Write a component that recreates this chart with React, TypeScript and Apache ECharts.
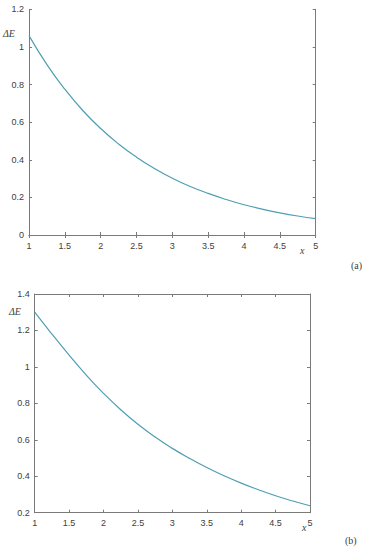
import React, { useEffect, useRef } from "react";
import * as echarts from "echarts";

const xValues = [1, 1.25, 1.5, 1.75, 2, 2.25, 2.5, 2.75, 3, 3.25, 3.5, 3.75, 4, 4.25, 4.5, 4.75, 5];
const deltaEA = [1.06, 0.906, 0.775, 0.662, 0.566, 0.484, 0.414, 0.354, 0.302, 0.258, 0.221, 0.189, 0.161, 0.138, 0.118, 0.101, 0.087];
const deltaEB = [1.3, 1.18, 1.065, 0.955, 0.855, 0.765, 0.685, 0.615, 0.553, 0.498, 0.448, 0.403, 0.362, 0.326, 0.293, 0.264, 0.238];

const lineColor = "#4e9fb2";
const axisColor = "#7a7a7a";
const labelColor = "#404040";

export default function App() {
  const ref = useRef<HTMLDivElement>(null);
  useEffect(() => {
    if (!ref.current) return;
    const chart = echarts.init(ref.current, null, { renderer: "svg" });
    const grids = [
      { left: 29, top: 9.3, right: 52.3, bottom: 315 },
      { left: 34.7, top: 294, right: 58, bottom: 37.3 },
    ];
    const ranges = [
      { min: 0, max: 1.2 },
      { min: 0.2, max: 1.4 },
    ];
    const xAxes: any[] = [];
    const yAxes: any[] = [];
    const tick = { show: true, inside: true, length: 3, lineStyle: { color: axisColor } };
    const line = { show: true, lineStyle: { color: axisColor, width: 1 } };
    const lbl = { color: labelColor, fontSize: 9, fontFamily: "Liberation Sans, Arial" };
    grids.forEach((_, i) => {
      xAxes.push({
        type: "value", gridIndex: i, min: 1, max: 5, interval: 0.5, position: "bottom",
        axisLine: line, axisTick: tick, axisLabel: { ...lbl, margin: 6 }, splitLine: { show: false },
      });
      xAxes.push({
        type: "value", gridIndex: i, min: 1, max: 5, interval: 0.5, position: "top",
        axisLine: line, axisTick: tick, axisLabel: { show: false }, splitLine: { show: false },
      });
      yAxes.push({
        type: "value", gridIndex: i, min: ranges[i].min, max: ranges[i].max, interval: 0.2, position: "left",
        axisLine: line, axisTick: tick, axisLabel: { ...lbl, margin: 5 }, splitLine: { show: false },
      });
      yAxes.push({
        type: "value", gridIndex: i, min: ranges[i].min, max: ranges[i].max, interval: 0.2, position: "right",
        axisLine: line, axisTick: tick, axisLabel: { show: false }, splitLine: { show: false },
      });
    });
    const txt = (text: string, x: number, y: number, italic: boolean, size: number) => ({
      type: "text",
      x,
      y,
      style: {
        text,
        fill: labelColor,
        font: `${italic ? "italic " : ""}${size}px "Liberation Serif", "Times New Roman", serif`,
        textAlign: "left",
        textVerticalAlign: "middle",
      },
    });
    chart.setOption({
      animation: false,
      backgroundColor: "#ffffff",
      grid: grids,
      xAxis: xAxes,
      yAxis: yAxes,
      graphic: [
        txt("ΔE", 3, 33, true, 10),
        txt("x", 300, 250, true, 10),
        txt("(a)", 351, 265, false, 10),
        txt("ΔE", 9, 311, true, 10),
        txt("x", 302, 527, true, 10),
        txt("(b)", 345, 540, false, 10),
      ],
      series: [
        {
          type: "line", xAxisIndex: 0, yAxisIndex: 0,
          data: xValues.map((x, j) => [x, deltaEA[j]]),
          smooth: true, showSymbol: false,
          lineStyle: { color: lineColor, width: 1.2 },
        },
        {
          type: "line", xAxisIndex: 2, yAxisIndex: 2,
          data: xValues.map((x, j) => [x, deltaEB[j]]),
          smooth: true, showSymbol: false,
          lineStyle: { color: lineColor, width: 1.2 },
        },
      ],
    });
    return () => chart.dispose();
  }, []);
  return (
    <div
      ref={ref}
      style={{ position: "absolute", left: 0, top: 0, width: 368, height: 550, background: "#fff" }}
    />
  );
}
